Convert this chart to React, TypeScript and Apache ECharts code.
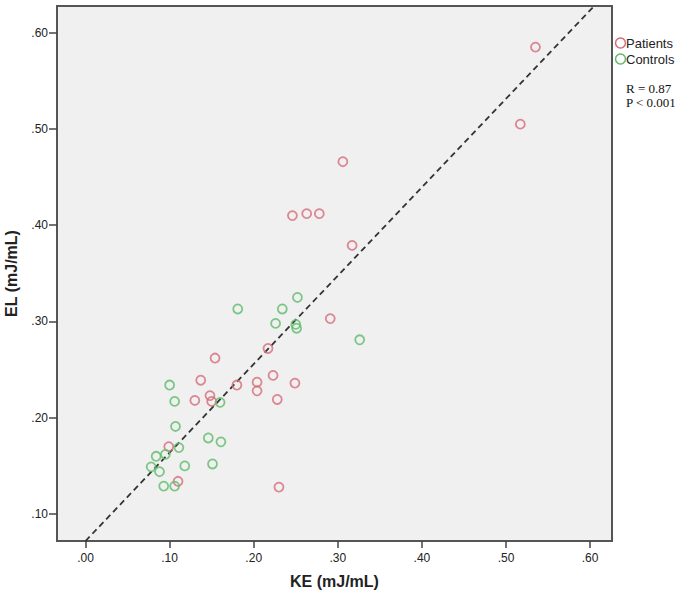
import React, { useEffect, useRef } from "react";
import * as echarts from "echarts";

const xTicks = [0, 0.1, 0.2, 0.3, 0.4, 0.5, 0.6];
const yTicks = [0.1, 0.2, 0.3, 0.4, 0.5, 0.6];

const patientsKE = [0.535, 0.517, 0.306, 0.246, 0.263, 0.278, 0.317, 0.291, 0.217, 0.154, 0.223, 0.204, 0.204, 0.228, 0.18, 0.137, 0.13, 0.148, 0.15, 0.249, 0.099, 0.11, 0.23];
const patientsEL = [0.585, 0.505, 0.466, 0.41, 0.412, 0.412, 0.379, 0.303, 0.272, 0.262, 0.244, 0.237, 0.228, 0.219, 0.234, 0.239, 0.218, 0.223, 0.217, 0.236, 0.17, 0.134, 0.128];

const controlsKE = [0.326, 0.252, 0.234, 0.181, 0.226, 0.25, 0.251, 0.16, 0.1, 0.106, 0.107, 0.146, 0.161, 0.151, 0.118, 0.111, 0.095, 0.084, 0.078, 0.088, 0.093, 0.106];
const controlsEL = [0.281, 0.325, 0.313, 0.313, 0.298, 0.297, 0.293, 0.216, 0.234, 0.217, 0.191, 0.179, 0.175, 0.152, 0.15, 0.169, 0.162, 0.16, 0.149, 0.144, 0.129, 0.129];

const fitLine = [[0, 0.072], [0.603, 0.626]];

const RED = "#d66c79";
const GREEN = "#5fbb6a";

const fmt = (v: number) => v.toFixed(2).replace(/^0/, "");

export default function App() {
  const ref = useRef<HTMLDivElement>(null);
  useEffect(() => {
    if (!ref.current) return;
    const chart = echarts.init(ref.current, null, { renderer: "svg" });
    const zip = (a: number[], b: number[]) => a.map((v, i) => [v, b[i]]);
    const labelStyle = { fontSize: 12, color: "#222", fontFamily: "Liberation Sans, Arial", formatter: fmt };
    const axisCommon = {
      type: "value",
      axisLine: { show: true, onZero: false, lineStyle: { color: "#555", width: 2 } },
      splitLine: { show: false },
      nameTextStyle: { fontSize: 16, fontWeight: "bold", color: "#222", fontFamily: "Liberation Sans, Arial" },
      nameLocation: "middle",
      nameMoveOverlap: false,
    };
    chart.setOption({
      animation: false,
      backgroundColor: "#ffffff",
      grid: {
        left: 57,
        right: 73,
        top: 6,
        bottom: 56,
        containLabel: false,
        outerBoundsMode: "none",
        show: true,
        backgroundColor: "#f0f0f0",
        borderColor: "#555",
        borderWidth: 2,
      },
      xAxis: {
        ...axisCommon,
        min: -0.0339,
        max: 0.626,
        name: "KE (mJ/mL)",
        nameGap: 32,
        axisTick: { show: true, length: 7, customValues: xTicks, lineStyle: { color: "#444", width: 1.5 } },
        axisLabel: { ...labelStyle, customValues: xTicks, margin: 11 },
      },
      yAxis: {
        ...axisCommon,
        min: 0.072,
        max: 0.6277,
        name: "EL (mJ/mL)",
        nameGap: 38,
        axisTick: { show: true, length: 8, customValues: yTicks, lineStyle: { color: "#444", width: 1.5 } },
        axisLabel: { ...labelStyle, customValues: yTicks, margin: 9 },
      },
      series: [
        {
          type: "line",
          data: fitLine,
          symbol: "none",
          lineStyle: { color: "#333", width: 1.8, type: [6, 4] },
          silent: true,
          z: 1,
        },
        {
          name: "Patients",
          type: "scatter",
          data: zip(patientsKE, patientsEL),
          symbol: "circle",
          symbolSize: 9,
          itemStyle: { color: "rgba(0,0,0,0)", borderColor: RED, borderWidth: 1.8 },
          z: 3,
        },
        {
          name: "Controls",
          type: "scatter",
          data: zip(controlsKE, controlsEL),
          symbol: "circle",
          symbolSize: 9,
          itemStyle: { color: "rgba(0,0,0,0)", borderColor: GREEN, borderWidth: 1.8 },
          z: 3,
        },
      ],
      graphic: [
        { type: "circle", shape: { cx: 620.5, cy: 43, r: 5 }, style: { fill: "none", stroke: RED, lineWidth: 1.5 } },
        { type: "text", x: 626, y: 43, style: { text: "Patients", fontSize: 13, fill: "#222", fontFamily: "Liberation Sans, Arial", verticalAlign: "middle" } },
        { type: "circle", shape: { cx: 620.5, cy: 59, r: 5 }, style: { fill: "none", stroke: GREEN, lineWidth: 1.5 } },
        { type: "text", x: 626, y: 59, style: { text: "Controls", fontSize: 13, fill: "#222", fontFamily: "Liberation Sans, Arial", verticalAlign: "middle" } },
        { type: "text", x: 626, y: 88, style: { text: "R = 0.87", fontSize: 13, fill: "#111", fontFamily: "Liberation Serif, Times New Roman, serif", verticalAlign: "middle" } },
        { type: "text", x: 626, y: 102, style: { text: "P < 0.001", fontSize: 13, fill: "#111", fontFamily: "Liberation Serif, Times New Roman, serif", verticalAlign: "middle" } },
      ],
    });
    return () => chart.dispose();
  }, []);
  return <div ref={ref} style={{ position: "absolute", left: 0, top: 0, width: 685, height: 597 }} />;
}
